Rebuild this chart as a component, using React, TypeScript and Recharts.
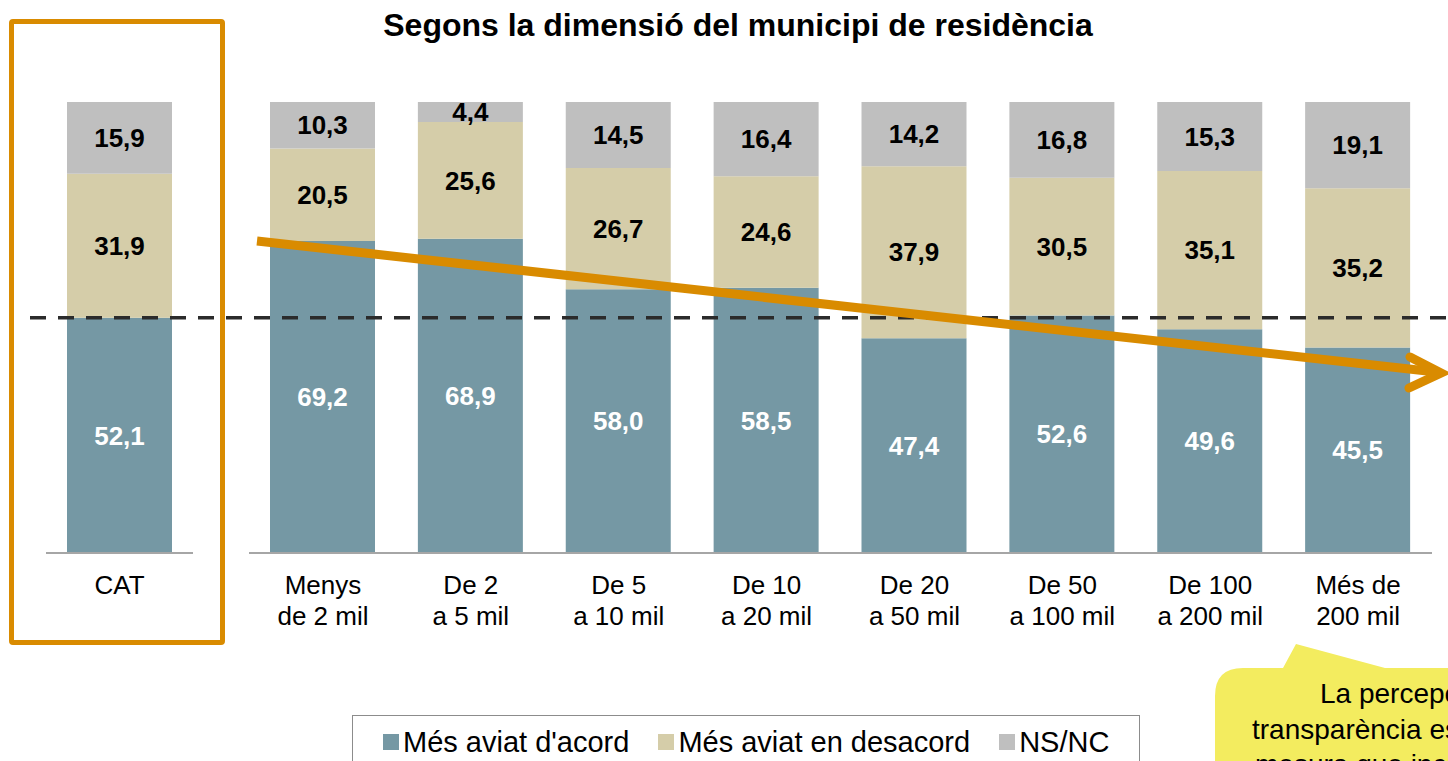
import React from 'react';
import { BarChart, Bar, XAxis, YAxis, LabelList, ReferenceLine } from 'recharts';

const categories = [
  'Menys\nde 2 mil',
  'De 2\na 5 mil',
  'De 5\na 10 mil',
  'De 10\na 20 mil',
  'De 20\na 50 mil',
  'De 50\na 100 mil',
  'De 100\na 200 mil',
  'Més de\n200 mil',
];
const agree = [69.2, 68.9, 58.0, 58.5, 47.4, 52.6, 49.6, 45.5];
const disagree = [20.5, 25.6, 26.7, 24.6, 37.9, 30.5, 35.1, 35.2];
const nsnc = [10.3, 4.4, 14.5, 16.4, 14.2, 16.8, 15.3, 19.1];

const catCategory = ['CAT'];
const catAgree = [52.1];
const catDisagree = [31.9];
const catNsnc = [15.9];

const seriesNames = ["Més aviat d'acord", 'Més aviat en desacord', 'NS/NC'];
const COLORS = ['#7598A4', '#D5CDA9', '#BFBFBF'];
const ORANGE = '#D98B00';
const FONT = '"Liberation Sans", Arial, sans-serif';

const mainData = categories.map((name, i) => ({
  name,
  agree: agree[i],
  disagree: disagree[i],
  nsnc: nsnc[i],
}));
const catData = catCategory.map((name, i) => ({
  name,
  agree: catAgree[i],
  disagree: catDisagree[i],
  nsnc: catNsnc[i],
}));

const fmt = (v: any) => Number(v).toFixed(1).replace('.', ',');

const CatTick = (props: any) => {
  const { x, y, payload } = props;
  const lines = String(payload.value).split('\n');
  return (
    <g transform={`translate(${x},${y})`}>
      <text textAnchor="middle" fontSize={26} fill="#000" fontFamily={FONT}>
        {lines.map((l, i) => (
          <tspan key={i} x={0} dy={i === 0 ? 41 : 31}>
            {l}
          </tspan>
        ))}
      </text>
    </g>
  );
};

const H = 700;
const TOP = 102;
const BASE = 553;

function bars() {
  const label = { fontSize: 26, fontWeight: 700, fontFamily: FONT };
  return [
    <Bar key="a" dataKey="agree" stackId="s" fill={COLORS[0]} barSize={105} isAnimationActive={false}>
      <LabelList dataKey="agree" position="center" formatter={fmt} fill="#fff" style={label} />
    </Bar>,
    <Bar key="d" dataKey="disagree" stackId="s" fill={COLORS[1]} barSize={105} isAnimationActive={false}>
      <LabelList dataKey="disagree" position="center" formatter={fmt} fill="#000" style={label} />
    </Bar>,
    <Bar key="n" dataKey="nsnc" stackId="s" fill={COLORS[2]} barSize={105} isAnimationActive={false}>
      <LabelList dataKey="nsnc" position="center" formatter={fmt} fill="#000" style={label} />
    </Bar>,
  ];
}

function axes() {
  return [
    <XAxis
      key="x"
      dataKey="name"
      height={H - BASE}
      tickLine={false}
      tickSize={0}
      tickMargin={0}
      axisLine={{ stroke: '#A6A6A6', strokeWidth: 2 }}
      tick={<CatTick />}
      interval={0}
    />,
    <YAxis key="y" hide domain={[0, 1]} />,
  ];
}

const catRef = catAgree[0] / (catAgree[0] + catDisagree[0] + catNsnc[0]);

export default function App() {
  return (
    <div
      style={{
        position: 'absolute',
        left: 0,
        top: 0,
        width: 1448,
        height: 761,
        overflow: 'hidden',
        background: '#fff',
        fontFamily: FONT,
      }}
    >
      <div
        style={{
          position: 'absolute',
          left: 238,
          top: 9,
          width: 1000,
          textAlign: 'center',
          fontSize: 32,
          lineHeight: '32px',
          fontWeight: 700,
          color: '#000',
        }}
      >
        Segons la dimensió del municipi de residència
      </div>

      {/* CAT */}
      <div style={{ position: 'absolute', left: 0, top: 0 }}>
        <BarChart
          width={250}
          height={H}
          data={catData}
          stackOffset="expand"
          margin={{ top: TOP, right: 57, bottom: 0, left: 46 }}
        >
          {axes()}
          {bars()}
        </BarChart>
      </div>

      {/* municipis */}
      <div style={{ position: 'absolute', left: 0, top: 0 }}>
        <BarChart
          width={1448}
          height={H}
          data={mainData}
          stackOffset="expand"
          margin={{ top: TOP, right: 16, bottom: 0, left: 249 }}
        >
          {axes()}
          {bars()}
        </BarChart>
      </div>

      {/* dashed CAT reference */}
      <div style={{ position: 'absolute', left: 0, top: 0, pointerEvents: 'none' }}>
        <BarChart
          width={1448}
          height={600}
          data={catData}
          stackOffset="expand"
          margin={{ top: TOP, right: 0, bottom: 600 - BASE, left: 30 }}
        >
          <XAxis dataKey="name" hide />
          <YAxis hide domain={[0, 1]} />
          <Bar dataKey="agree" stackId="s" fill="none" isAnimationActive={false} />
          <Bar dataKey="disagree" stackId="s" fill="none" isAnimationActive={false} />
          <Bar dataKey="nsnc" stackId="s" fill="none" isAnimationActive={false} />
          <ReferenceLine y={catRef} stroke="#2B2B2B" strokeWidth={3.5} strokeDasharray="16 12" />
        </BarChart>
      </div>

      {/* CAT frame */}
      <div
        style={{
          position: 'absolute',
          left: 9,
          top: 19,
          width: 216,
          height: 626,
          border: `5px solid ${ORANGE}`,
          borderRadius: 4,
          boxSizing: 'border-box',
        }}
      />

      {/* trend arrow + callout */}
      <svg
        width={1448}
        height={761}
        style={{ position: 'absolute', left: 0, top: 0, pointerEvents: 'none' }}
      >
        <line x1={257} y1={241} x2={1436} y2={372} stroke={ORANGE} strokeWidth={9} />
        <polyline
          points="1410,357 1441,373 1409,388"
          fill="none"
          stroke={ORANGE}
          strokeWidth={9}
          strokeLinecap="round"
        />
        <path
          d="M1215,696 Q1215,668 1243,668 L1283,668 L1296,644 L1385,668 L1460,668 L1460,790 L1215,790 Z"
          fill="#F3EC5F"
        />
        <text fontSize={28} fill="#000" fontFamily={FONT}>
          <tspan x={1320} y={703}>La percepció de la</tspan>
          <tspan x={1252} y={739}>transparència es redueix a</tspan>
          <tspan x={1255} y={774}>mesura que incrementa</tspan>
        </text>
      </svg>

      {/* legend */}
      <div
        style={{
          position: 'absolute',
          left: 352,
          top: 715,
          width: 788,
          height: 60,
          border: '1px solid #8C8C8C',
          boxSizing: 'border-box',
          display: 'flex',
          flexWrap: 'nowrap',
          alignItems: 'flex-start',
          paddingLeft: 30,
          paddingTop: 9,
        }}
      >
        {seriesNames.map((n, i) => (
          <div
            key={n}
            style={{
              display: 'flex',
              alignItems: 'center',
              flexShrink: 0,
              whiteSpace: 'nowrap',
              marginRight: 29,
              fontSize: 29,
              lineHeight: '34px',
            }}
          >
            <span
              style={{ width: 16, height: 16, background: COLORS[i], display: 'inline-block', marginRight: 4 }}
            />
            <span>{n}</span>
          </div>
        ))}
      </div>
    </div>
  );
}
